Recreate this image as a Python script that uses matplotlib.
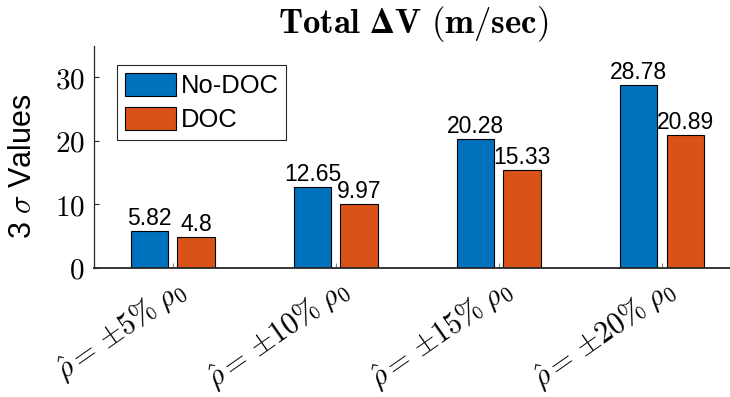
import numpy as np
import matplotlib
matplotlib.use('Agg')
import matplotlib.pyplot as plt
from matplotlib.transforms import ScaledTranslation

plt.rcParams['font.family'] = ['Liberation Sans', 'DejaVu Sans']
plt.rcParams['mathtext.fontset'] = 'cm'

# density error cases (percent of nominal rho_0)
cases = ['5', '10', '15', '20']
no_doc = [5.82, 12.65, 20.28, 28.78]
doc = [4.8, 9.97, 15.33, 20.89]
series = ['No-DOC', 'DOC']
yticks = [0, 10, 20, 30]

blue = '#0072BD'
orange = '#D95319'
axcol = '#262626'

W, H = 730, 397
fig = plt.figure(figsize=(W / 100, H / 100), dpi=100)
ax = fig.add_axes([94.3 / W, (H - 267.7) / H, 646 / W, 222 / H])

x = np.arange(1, len(cases) + 1)
bw = 0.23
off = 0.143
b1 = ax.bar(x - off, no_doc, bw, color=blue, edgecolor='k', linewidth=0.8, label=series[0])
b2 = ax.bar(x + off, doc, bw, color=orange, edgecolor='k', linewidth=0.8, label=series[1])

for bars, vals in ((b1, no_doc), (b2, doc)):
    for r, v in zip(bars, vals):
        ax.annotate('%g' % v, (r.get_x() + r.get_width() / 2, v), xytext=(0, 4.5),
                    textcoords='offset points', ha='center', va='baseline', fontsize=16.5)

ax.set_xlim(0.52, 4.48)
ax.set_ylim(0, 35)
ax.set_yticks(yticks)
ax.set_yticklabels(['$%d$' % t for t in yticks], fontsize=21)
ax.set_xticks(x)
labs = ax.set_xticklabels([r'$\hat{\rho} = \,{\pm}\mathbf{%s}\%%\;\rho_0$' % c for c in cases],
                          fontsize=21.5, rotation=35, ha='right', va='top', rotation_mode='anchor')
for t in labs:
    t.set_transform(t.get_transform() + ScaledTranslation(-0.17, -0.34, fig.dpi_scale_trans))

ax.tick_params(axis='y', direction='in', length=3.6, width=0.8, color=axcol, pad=7)
ax.tick_params(axis='x', direction='in', length=3.6, width=0.8, color='#888888', pad=4)
for s in ['top', 'right']:
    ax.spines[s].set_visible(False)
ax.spines['left'].set_color(axcol)
ax.spines['left'].set_linewidth(0.9)
ax.spines['bottom'].set_color(axcol)
ax.spines['bottom'].set_linewidth(1.3)

ax.set_ylabel(r'3 $\sigma$ Values', fontsize=22)
ax.yaxis.set_label_coords((38 - 94.3) / 646, (267.7 - 166) / 222)

fig.text(413 / W, 1 - 33 / H, r'$\mathbf{Total\ Δ V\ (m/sec)}$', ha='center', va='baseline', fontsize=25)

leg = ax.legend(loc='upper left', bbox_to_anchor=(117 / W, 1 - 65 / H), bbox_transform=fig.transFigure,
                borderaxespad=0, frameon=True, fancybox=False, edgecolor=axcol, framealpha=1,
                fontsize=18.4, handlelength=2.0, handleheight=1.0, handletextpad=0.2,
                borderpad=0.3, labelspacing=0.35)
leg.get_frame().set_linewidth(0.8)

fig.savefig('out.png', dpi=100)
